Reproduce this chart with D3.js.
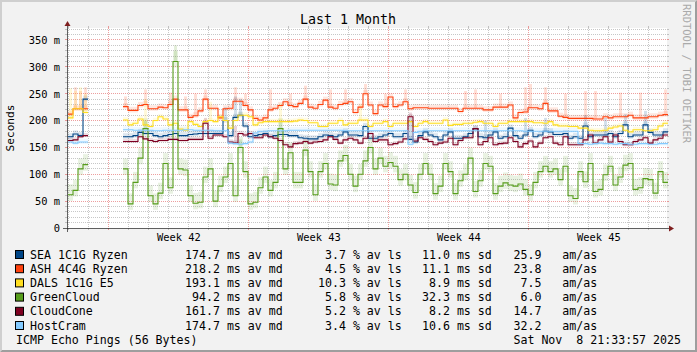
<!DOCTYPE html>
<html>
<head>
<meta charset="utf-8">
<script src="https://cdn.jsdelivr.net/npm/d3@7"></script>
<style>
  body { margin: 0; background: #f2f2f2; }
  svg text { font-family: "DejaVu Sans Mono", monospace; white-space: pre; }
</style>
</head>
<body>
<div id="chart"></div>
<script>
// legend table
const hosts = ["SEA 1C1G Ryzen", "ASH 4C4G Ryzen", "DALS 1C1G E5", "GreenCloud", "CloudCone", "HostCram"];
const colors = ["#004586", "#ff420e", "#ffde20", "#579d1c", "#7e0021", "#83caff"];
const avgMedian = [174.7, 218.2, 193.1, 94.2, 161.7, 174.7];
const avgLoss = [3.7, 4.5, 10.3, 5.8, 5.2, 3.4];
const avgSd = [11.0, 11.1, 8.9, 32.3, 8.2, 10.6];
const amAs = [25.9, 23.8, 7.5, 6.0, 14.7, 32.2];

const yTicks = [0, 50, 100, 150, 200, 250, 300, 350];

// median rtt (ms), one value per 6 hours, null = no data
const sea = [170, 175, 172, 240, null, null, null, null, null, null, null,
  170, 170, 172, 178, 176, 176, 172, 170, 172, 174, 176, 172, 172,
  174, 175, 176, 176, 176, 176, 176, 200, 172, 206, 210, 190, 170, 172, 174, 176, 170, 172, 174, 174, 172, 172, 168, 167,
  166, 166, 170, 173, 172, 170, 173, 179, 173, 173, 172, 189, 167, 167, 170, 173, 176, 170, 170, 176, 165, 160, 172, 179,
  173, 170, 164, 173, 179, 167, 167, 170, 176, 185, 170, 168, 173, 179, 167, 170, 186, 172, 167, 173, 182, 170, 173, 180,
  179, 174, 174, 176, 167, 170, 167, 190, 170, 173, 173, 173, 176, 170, 176, 192, 170, 173, 173, 192, 178, 173, 173, 179];
const ash = [212, 222, 222, 222, null, null, null, null, null, null, null,
  226, 219, 219, 228, 230, 222, 222, 225, 224, 230, 240, 220, 220,
  206, 209, 218, 240, 223, 223, 205, 222, 223, 236, 236, 228, 220, 204, 201, 205, 220, 223, 228, 235, 228, 226, 232, 240,
  225, 223, 230, 238, 225, 223, 230, 232, 235, 215, 225, 250, 229, 213, 229, 226, 244, 226, 229, 235, 222, 224, 224, 224,
  223, 223, 223, 223, 223, 223, 217, 223, 223, 223, 223, 220, 220, 225, 225, 225, 229, 205, 215, 216, 224, 224, 222, 232,
  218, 218, 208, 206, 204, 204, 204, 204, 204, 203, 203, 207, 205, 207, 207, 207, 210, 205, 205, 205, 207, 207, 210, 211];
const dals = [205, 222, 222, 215, null, null, null, null, null, null, null,
  201, 192, 195, 203, 192, 189, 200, 207, 203, 192, 195, 184, 182,
  198, 193, 189, 198, 200, 198, 207, 200, 186, 200, 210, 210, 207, 192, 196, 198, 198, 198, 198, 198, 198, 199, 201, 200,
  196, 196, 189, 189, 195, 195, 200, 192, 195, 195, 201, 201, 189, 195, 195, 198, 189, 195, 195, 195, 198, 189, 195, 198,
  195, 195, 195, 201, 191, 193, 193, 195, 195, 197, 198, 195, 195, 189, 195, 195, 198, 198, 198, 198, 198, 196, 196, 195,
  198, 192, 190, 190, 189, 189, 186, 186, 182, 181, 181, 182, 186, 188, 190, 182, 179, 183, 183, 181, 181, 183, 190, 195];
const greencloud = [62, 70, 110, 118, null, null, null, null, null, null, null,
  110, 45, 85, 130, 185, 60, 45, 65, 120, 75, 310, 110, 108,
  60, 46, 48, 95, 110, 50, 78, 95, 120, 60, 150, 105, 45, 48, 75, 95, 70, 85, 185, 110, 140, 85, 85, 145,
  105, 62, 105, 120, 82, 80, 125, 135, 100, 78, 100, 125, 150, 110, 130, 115, 122, 115, 90, 100, 80, 66, 100, 120,
  100, 64, 78, 120, 105, 64, 88, 100, 130, 68, 88, 120, 115, 64, 78, 84, 80, 78, 82, 72, 62, 85, 105, 115,
  105, 110, 90, 115, 60, 55, 105, 86, 120, 68, 72, 99, 115, 80, 95, 117, 120, 72, 75, 92, 90, 65, 105, 85];
const cloudcone = [163, 164, 170, 172, null, null, null, null, null, null, null,
  161, 161, 161, 170, 166, 163, 161, 163, 163, 165, 165, 163, 163,
  165, 165, 165, 195, 167, 173, 173, 170, 160, 158, 176, 173, 176, 168, 168, 173, 170, 167, 163, 155, 151, 157, 158, 161,
  158, 160, 161, 164, 170, 165, 158, 164, 167, 164, 158, 167, 176, 161, 164, 164, 155, 157, 160, 166, 207, 162, 168, 165,
  161, 155, 158, 160, 167, 155, 163, 168, 168, 185, 155, 161, 168, 155, 157, 158, 168, 161, 151, 157, 162, 151, 158, 168,
  170, 158, 155, 170, 155, 155, 155, 164, 173, 158, 164, 170, 160, 173, 161, 155, 155, 161, 164, 168, 158, 164, 167, 173];
const hostcram = [160, 158, 160, 160, null, null, null, null, null, null, null,
  183, 183, 182, 182, 182, 182, 181, 181, 182, 182, 182, 182, 183,
  183, 182, 182, 182, 182, 181, 181, 181, 158, 157, 156, 157, 160, 177, 180, 180, 181, 181, 181, 181, 182, 182, 182, 182,
  182, 182, 182, 182, 182, 182, 182, 181, 181, 181, 181, 181, 181, 181, 181, 181, 181, 181, 181, 181, 156, 178, 180, 181,
  181, 181, 181, 181, 181, 181, 181, 181, 181, 181, 181, 181, 181, 181, 181, 181, 181, 181, 181, 180, 180, 180, 180, 180,
  180, 180, 180, 180, 180, 180, 157, 157, 156, 157, 158, 157, 157, 156, 157, 157, 156, 156, 157, 157, 156, 156, 157, 157];

// tall smoke (stddev) bursts: [host, sample, top ms]
const smokePeaks = [
  [1, 1, 262], [1, 2, 255], [1, 3, 262], [1, 11, 245], [1, 15, 258], [1, 20, 252], [1, 23, 245],
  [1, 25, 250], [1, 27, 258], [1, 33, 262], [1, 35, 250], [1, 40, 258], [1, 44, 250], [1, 47, 265],
  [1, 52, 258], [1, 55, 258], [1, 59, 268], [1, 63, 250], [1, 67, 258], [1, 79, 255], [1, 81, 258],
  [1, 86, 250], [1, 91, 262], [1, 92, 268], [1, 95, 262], [1, 99, 250], [1, 103, 255], [1, 105, 255],
  [1, 110, 252], [1, 114, 252], [1, 119, 258],
  [2, 0, 260], [2, 1, 255], [2, 2, 262], [2, 3, 250], [2, 15, 240], [2, 28, 235], [2, 42, 232], [2, 58, 230],
  [0, 31, 225], [0, 33, 245], [0, 34, 240], [0, 68, 205], [0, 83, 200], [0, 91, 205], [0, 95, 205],
  [0, 103, 210], [0, 107, 205], [0, 111, 212], [0, 115, 218],
  [3, 21, 340], [3, 15, 200], [3, 42, 200], [3, 34, 165],
  [4, 27, 205], [4, 68, 215], [4, 33, 190]
];

const series = [sea, ash, dals, greencloud, cloudcone, hostcram];

const W = 697, H = 352;
const x0 = 67, x1 = 667, y0 = 228, y1 = 28;
const sampleStart = Date.UTC(2025, 9, 10, 23, 30);
const stepMs = 6 * 3600 * 1000;
const tAt = i => new Date(sampleStart + i * stepMs);

const x = d3.scaleUtc()
  .domain([new Date(Date.UTC(2025, 9, 10, 22, 18)), new Date(Date.UTC(2025, 10, 9, 22, 18))])
  .range([x0, x1]);
const y = d3.scaleLinear()
  .domain([0, 200 * 350 / 188])
  .range([y0, y1]);

const svg = d3.select("#chart").append("svg")
  .attr("width", W).attr("height", H)
  .style("display", "block");

// background + 3d border
svg.append("rect").attr("width", W).attr("height", H).attr("fill", "#f2f2f2");
svg.append("path").attr("d", `M0,${H}L2,${H - 2}L2,2L${W - 2},2L${W},0L0,0Z`).attr("fill", "#cfcfcf");
svg.append("path").attr("d", `M2,${H - 2}L${W - 2},${H - 2}L${W - 2},2L${W},0L${W},${H}L0,${H}Z`).attr("fill", "#9e9e9e");

// canvas
svg.append("rect").attr("x", x0).attr("y", y1).attr("width", x1 - x0).attr("height", y0 - y1).attr("fill", "#fff");

const snap = v => Math.floor(v) + 0.5;
const minorCol = "rgba(143,143,143,0.5)", majorCol = "rgba(222,79,79,0.55)";
const grid = svg.append("g").attr("fill", "none");

// horizontal grid
const minorY = d3.range(10, 371, 10).filter(v => v % 50 !== 0);
const majorY = yTicks.filter(v => v > 0);
grid.selectAll(".hmin").data(minorY).join("line")
  .attr("x1", x0).attr("x2", x1).attr("y1", d => snap(y(d))).attr("y2", d => snap(y(d)))
  .attr("stroke", minorCol).attr("stroke-dasharray", "1,1");
grid.selectAll(".hmaj").data(majorY).join("line")
  .attr("x1", x0).attr("x2", x1).attr("y1", d => snap(y(d))).attr("y2", d => snap(y(d)))
  .attr("stroke", majorCol).attr("stroke-dasharray", "1,1");
grid.selectAll(".htick").data(minorY.concat(majorY)).join("path")
  .attr("d", d => `M${x0 - 2},${snap(y(d))}H${x0}M${x1},${snap(y(d))}H${x1 + 2}`)
  .attr("stroke", d => d % 50 ? minorCol : majorCol);

// vertical grid
const days = d3.utcDay.range(x.domain()[0], x.domain()[1]);
const weeks = d3.utcMonday.range(x.domain()[0], x.domain()[1]);
const weekSet = new Set(weeks.map(d => +d));
grid.selectAll(".vline").data(days).join("line")
  .attr("x1", d => snap(x(d))).attr("x2", d => snap(x(d))).attr("y1", y1).attr("y2", y0)
  .attr("stroke", d => weekSet.has(+d) ? majorCol : minorCol)
  .attr("stroke-dasharray", "1,1");
grid.selectAll(".vtick").data(days).join("path")
  .attr("d", d => `M${snap(x(d))},${y1 - 2}V${y1}M${snap(x(d))},${y0}V${y0 + 2}`)
  .attr("stroke", d => weekSet.has(+d) ? majorCol : minorCol);

// data
svg.append("clipPath").attr("id", "clip").append("rect")
  .attr("x", x0).attr("y", y1 - 10).attr("width", x1 - x0 + 1).attr("height", y0 - y1 + 10);
const plot = svg.append("g").attr("clip-path", "url(#clip)");

series.forEach((vals, h) => {
  const pts = vals.map((v, i) => ({ v, i })).filter(d => d.v != null);
  plot.append("g").selectAll("rect").data(pts).join("rect")
    .attr("x", d => x(tAt(d.i)))
    .attr("width", d => x(tAt(d.i + 1)) - x(tAt(d.i)))
    .attr("y", d => y(d.v + avgSd[h] * 0.6))
    .attr("height", d => y(d.v - avgSd[h] * 0.35) - y(d.v + avgSd[h] * 0.6))
    .attr("fill", colors[h]).attr("opacity", 0.13);
});
plot.append("g").selectAll("rect").data(smokePeaks).join("rect")
  .attr("x", d => x(tAt(d[1])) + 1)
  .attr("width", d => x(tAt(d[1] + 1)) - x(tAt(d[1])) - 2)
  .attr("y", d => y(d[2]))
  .attr("height", d => Math.max(0, y(series[d[0]][d[1]]) - y(d[2])))
  .attr("fill", d => colors[d[0]]).attr("opacity", 0.17);

const line = d3.line().defined(d => d !== null).x(d => x(d[0])).y(d => y(d[1]));
series.forEach((vals, h) => {
  const pts = [];
  vals.forEach((v, i) => {
    if (v == null) { pts.push(null); return; }
    pts.push([tAt(i), v], [tAt(i + 1), v]);
  });
  plot.append("path").attr("d", line(pts))
    .attr("fill", "none").attr("stroke", colors[h]).attr("stroke-width", 1.1);
});

// axes
const yAxis = svg.append("g").attr("transform", `translate(${x0},0)`)
  .call(d3.axisLeft(y).tickValues(yTicks).tickSize(0).tickPadding(7)
    .tickFormat(d => d === 0 ? "0" : d + " m"));
yAxis.select(".domain").remove();
yAxis.selectAll("text").attr("font-family", "DejaVu Sans Mono").attr("font-size", 10.4).attr("fill", "#000");

const weekMids = weeks.map(d => d3.utcHour.offset(d, 84));
const xAxis = svg.append("g").attr("transform", `translate(0,${y0})`)
  .call(d3.axisBottom(x).tickValues(weekMids).tickSize(0).tickPadding(6)
    .tickFormat(d3.utcFormat("Week %V")));
xAxis.select(".domain").remove();
xAxis.selectAll("text").attr("font-family", "DejaVu Sans Mono").attr("font-size", 10.4).attr("fill", "#000");

svg.append("line").attr("x1", x0 - 4).attr("x2", x1 + 4).attr("y1", y0 + 0.5).attr("y2", y0 + 0.5)
  .attr("stroke", "#1f1f1f").attr("stroke-width", 0.7);
svg.append("line").attr("x1", x0 + 0.5).attr("x2", x0 + 0.5).attr("y1", y0 + 4).attr("y2", y1 - 4)
  .attr("stroke", "#1f1f1f").attr("stroke-width", 0.7);
svg.append("path").attr("d", `M${x1 + 2},${y0 - 2.5}L${x1 + 2},${y0 + 3.5}L${x1 + 7},${y0 + 0.5}Z`).attr("fill", "#7f1f1f");
svg.append("path").attr("d", `M${x0 - 2.5},${y1 - 2}L${x0 + 3.5},${y1 - 2}L${x0 + 0.5},${y1 - 7}Z`).attr("fill", "#7f1f1f");

// titles
svg.append("text").attr("x", 348).attr("y", 23.5).attr("text-anchor", "middle")
  .attr("font-size", 13.3).text("Last 1 Month");
svg.append("text").attr("transform", `translate(14,${(y0 + y1) / 2}) rotate(-90)`)
  .attr("text-anchor", "middle").attr("font-size", 11.2).text("Seconds");
svg.append("text").attr("transform", "translate(683,4) rotate(90)")
  .attr("font-size", 10.5).attr("fill", "#aaa").text("RRDTOOL / TOBI OETIKER");

// legend
const f51 = d3.format("5.1f");
const rowY = i => 258.5 + i * 14.2;
const leg = svg.append("g").attr("font-size", 11.6);
hosts.forEach((name, i) => {
  leg.append("rect").attr("x", 15.5).attr("y", rowY(i) - 8).attr("width", 8).attr("height", 8)
    .attr("fill", colors[i]).attr("stroke", "#000").attr("stroke-width", 1);
  leg.append("text").attr("x", 30).attr("y", rowY(i)).text(name);
  leg.append("text").attr("x", 185).attr("y", rowY(i)).text(f51(avgMedian[i]) + " ms av md");
  leg.append("text").attr("x", 311).attr("y", rowY(i)).text(f51(avgLoss[i]) + " % av ls");
  leg.append("text").attr("x", 415).attr("y", rowY(i)).text(f51(avgSd[i]) + " ms sd");
  leg.append("text").attr("x", 506.5).attr("y", rowY(i)).text(f51(amAs[i]) + "   am/as");
});
leg.append("text").attr("x", 16).attr("y", rowY(6)).text("ICMP Echo Pings (56 Bytes)");
leg.append("text").attr("x", 681).attr("y", rowY(6)).attr("text-anchor", "end").text("Sat Nov  8 21:33:57 2025");
</script>
</body>
</html>
